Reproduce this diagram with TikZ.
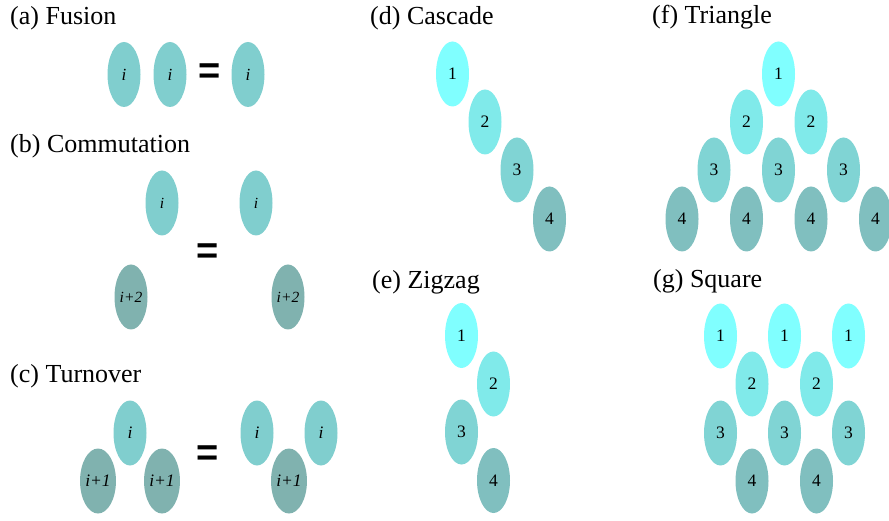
\documentclass[tikz,border=0pt]{standalone}
\usepackage{fontspec}
\setmainfont{Liberation Serif}
\newfontfamily\eqfont{Liberation Sans}
\usetikzlibrary{shapes.geometric}
\definecolor{cA}{RGB}{128,255,255}
\definecolor{cB}{RGB}{128,234,234}
\definecolor{cC}{RGB}{128,212,212}
\definecolor{cD}{RGB}{128,191,191}
\definecolor{cI}{RGB}{128,206,206}
\definecolor{cJ}{RGB}{128,178,175}
\tikzset{
  ell/.style={ellipse,minimum width=33pt,minimum height=65pt,inner sep=0pt,draw=none},
  lvA/.style={ell,fill=cA},
  lvB/.style={ell,fill=cB},
  lvC/.style={ell,fill=cC},
  lvD/.style={ell,fill=cD},
  lvI/.style={ell,fill=cI},
  lvJ/.style={ell,fill=cJ},
  numf/.style={font=\fontsize{17.5}{17.5}\selectfont},
  ita/.style={font=\fontsize{17}{17}\selectfont\itshape},
  itb/.style={font=\fontsize{15.5}{15.5}\selectfont\itshape},
  itc/.style={font=\fontsize{17.5}{17.5}\selectfont\itshape},
  ttl/.style={anchor=base west,inner sep=0pt,font=\fontsize{26}{26}\selectfont},
  eqs/.style={inner sep=0pt,font=\fontsize{38}{38}\selectfont\eqfont\bfseries}
}
\begin{document}
\begin{tikzpicture}[x=1pt,y=-1pt]
\useasboundingbox (0,0) rectangle (889,521);
% titles
\node[ttl] (ta) at (10,25) {(a) Fusion};
\node[ttl] (tb) at (10,153) {(b) Commutation};
\node[ttl] (tc) at (10,382) {(c) Turnover};
\node[ttl] (td) at (370,25) {(d) Cascade};
\node[ttl] (te) at (372,289) {(e) Zigzag};
\node[ttl] (tf) at (652,24) {(f) Triangle};
\node[ttl] (tg) at (653,288) {(g) Square};
% (a)
\node[lvI,ita] (a1) at (124,74.5) {i};
\node[lvI,ita] (a2) at (170,74.5) {i};
\node[eqs] (aeq) at (210,74) {=};
\node[lvI,ita] (a3) at (248,74.5) {i};
% (b)
\node[lvI,itb] (b1) at (162,203) {i};
\node[lvJ,itb] (b2) at (131,297) {i+2};
\node[eqs] (beq) at (208,254) {=};
\node[lvI,itb] (b3) at (256,203) {i};
\node[lvJ,itb] (b4) at (288,297) {i+2};
% (c)
\node[lvI,itc] (c1) at (130,433) {i};
\node[lvJ,itc] (c2) at (98,481) {i+1};
\node[lvJ,itc] (c3) at (162,481) {i+1};
\node[eqs] (ceq) at (208,456) {=};
\node[lvI,itc] (c4) at (257,433) {i};
\node[lvJ,itc] (c5) at (289,481) {i+1};
\node[lvI,itc] (c6) at (321,433) {i};
% (d)
\node[lvA,numf] (d1) at (452.5,74) {1};
\node[lvB,numf] (d2) at (485,122) {2};
\node[lvC,numf] (d3) at (517,170) {3};
\node[lvD,numf] (d4) at (549.5,219) {4};
% (e)
\node[lvA,numf] (e1) at (461.5,335.5) {1};
\node[lvB,numf] (e2) at (493.5,384) {2};
\node[lvC,numf] (e3) at (461.5,432) {3};
\node[lvD,numf] (e4) at (493.5,480.5) {4};
% (f)
\node[lvA,numf] (f1) at (778.5,74) {1};
\node[lvB,numf] (f2) at (746.5,122) {2};
\node[lvB,numf] (f3) at (811,122) {2};
\node[lvC,numf] (f4) at (714,170) {3};
\node[lvC,numf] (f5) at (778.5,170) {3};
\node[lvC,numf] (f6) at (843.5,170) {3};
\node[lvD,numf] (f7) at (682,219) {4};
\node[lvD,numf] (f8) at (746.5,219) {4};
\node[lvD,numf] (f9) at (811,219) {4};
\node[lvD,numf] (f10) at (875.5,219) {4};
% (g)
\node[lvA,numf] (g1) at (720.5,336) {1};
\node[lvA,numf] (g2) at (784.5,336) {1};
\node[lvA,numf] (g3) at (848.5,336) {1};
\node[lvB,numf] (g4) at (752,384) {2};
\node[lvB,numf] (g5) at (816.5,384) {2};
\node[lvC,numf] (g6) at (720.5,433) {3};
\node[lvC,numf] (g7) at (784.5,433) {3};
\node[lvC,numf] (g8) at (848.5,433) {3};
\node[lvD,numf] (g9) at (752,481) {4};
\node[lvD,numf] (g10) at (816.5,481) {4};
\end{tikzpicture}
\end{document}
